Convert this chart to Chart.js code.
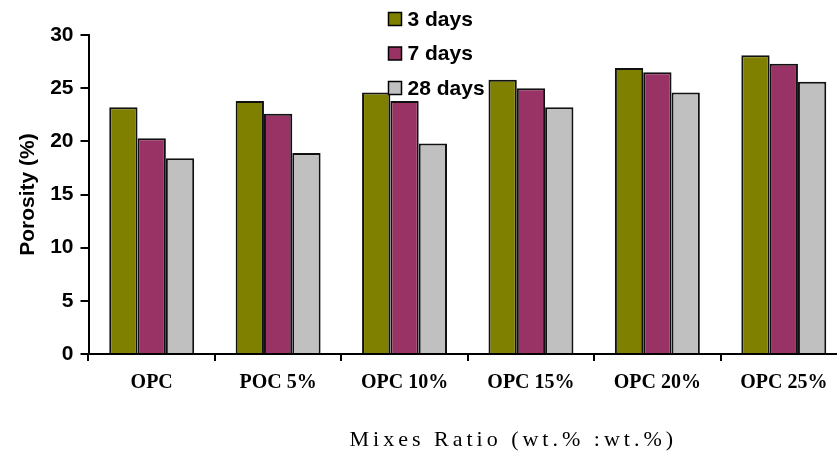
<!DOCTYPE html>
<html>
<head>
<meta charset="utf-8">
<script src="https://cdn.jsdelivr.net/npm/chart.js@4/dist/chart.umd.min.js"></script>
<style>
  html, body { margin: 0; padding: 0; background: #fff; overflow: hidden; }
  #wrap { position: absolute; left: 0; top: 0; width: 850px; height: 454px; }
</style>
</head>
<body>
<div id="wrap"><canvas id="c" width="850" height="454"></canvas></div>
<script>
// Porosity of mixes at three curing ages
const categories = ['OPC', 'POC 5%', 'OPC 10%', 'OPC 15%', 'OPC 20%', 'OPC 25%'];
const seriesNames = ['3 days', '7 days', '28 days'];
const days3 = [23.2, 23.8, 24.6, 25.8, 26.9, 28.1];
const days7 = [20.3, 22.6, 23.8, 25.0, 26.5, 27.3];
const days28 = [18.4, 18.9, 19.8, 23.2, 24.6, 25.6];
const yTicks = [0, 5, 10, 15, 20, 25, 30];
const yTitle = 'Porosity (%)';
const xTitle = 'Mixes Ratio (wt.% :wt.%)';

const colors = ['#808000', '#993366', '#C0C0C0'];
const boldSans = { family: '"Liberation Sans", Arial, sans-serif', size: 21, weight: 'bold' };

// Legend drawn as a stacked list of swatches near the top of the plot
const stackedLegend = {
  id: 'stackedLegend',
  afterDatasetsDraw(chart) {
    const ctx = chart.ctx;
    const area = chart.chartArea;
    const x0 = area.left + 300;
    ctx.save();
    ctx.font = 'bold 21px "Liberation Sans", Arial, sans-serif';
    ctx.textBaseline = 'middle';
    ctx.textAlign = 'left';
    chart.data.datasets.forEach((ds, i) => {
      const cy = 19 + i * 34.5;
      ctx.fillStyle = ds.backgroundColor;
      ctx.fillRect(x0, cy - 6.5, 13, 13);
      ctx.lineWidth = 1.5;
      ctx.strokeStyle = '#000';
      ctx.strokeRect(x0, cy - 6.5, 13, 13);
      ctx.fillStyle = '#000';
      ctx.fillText(ds.label, x0 + 19, cy + 1);
    });
    ctx.restore();
  }
};

// Spaced-out x axis title
const xAxisTitle = {
  id: 'xAxisTitle',
  afterDraw(chart) {
    const ctx = chart.ctx;
    const area = chart.chartArea;
    ctx.save();
    ctx.font = '22px "Liberation Serif", "Times New Roman", serif';
    ctx.letterSpacing = '4px';
    ctx.fillStyle = '#000';
    ctx.textAlign = 'center';
    ctx.textBaseline = 'middle';
    ctx.fillText(xTitle, area.left + (area.right - area.left) * 0.56, 440);
    ctx.restore();
  }
};

new Chart(document.getElementById('c'), {
  type: 'bar',
  data: {
    labels: categories,
    datasets: [days3, days7, days28].map((vals, i) => ({
      label: seriesNames[i],
      data: vals,
      backgroundColor: colors[i],
      borderColor: '#111',
      borderWidth: 2,
      borderSkipped: 'bottom',
      categoryPercentage: 0.672,
      barPercentage: 1.0
    }))
  },
  options: {
    responsive: false,
    animation: false,
    layout: { padding: { top: 35, right: 3, left: 0, bottom: 0 } },
    plugins: {
      legend: { display: false },
      tooltip: { enabled: false }
    },
    scales: {
      x: {
        offset: true,
        grid: {
          offset: true,
          drawOnChartArea: false,
          drawTicks: true,
          tickLength: 7,
          color: '#000',
          lineWidth: 2
        },
        border: { color: '#000', width: 2 },
        ticks: {
          color: '#000',
          padding: 10,
          maxRotation: 0,
          autoSkip: false,
          font: { family: '"Liberation Serif", "Times New Roman", serif', size: 20, weight: 'bold' }
        },
        afterFit(s) { s.height = 100; }
      },
      y: {
        min: 0,
        max: 30,
        afterBuildTicks(s) { s.ticks = yTicks.map(v => ({ value: v })); },
        grid: {
          drawOnChartArea: false,
          drawTicks: true,
          tickLength: 8,
          color: '#000',
          lineWidth: 2
        },
        border: { color: '#000', width: 2 },
        ticks: { color: '#000', padding: 7, font: boldSans },
        title: {
          display: true,
          text: yTitle,
          color: '#000',
          font: boldSans,
          padding: { top: 16, bottom: 0 }
        },
        afterFit(s) { s.width = 88.5; }
      }
    }
  },
  plugins: [stackedLegend, xAxisTitle]
});
</script>
</body>
</html>
